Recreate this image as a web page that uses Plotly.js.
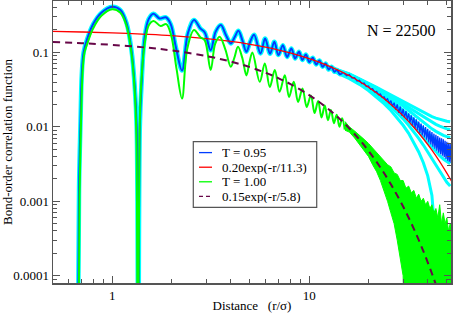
<!DOCTYPE html>
<html>
<head>
<meta charset="utf-8">
<script src="https://cdn.plot.ly/plotly-3.0.1.min.js"></script>
<style>html,body{margin:0;padding:0;background:#fff;}#chart{width:457px;height:313px;}</style>
</head>
<body>
<div id="chart"></div>
<script>
// ---- T = 0.95 averaged curve (smooth oscillating part) ----
var rBlue = [0.665,0.678,0.69,0.70,0.715,0.745,0.80,0.88,1.00,1.10,1.18,1.25,1.30,1.33,1.355,1.38,1.41,1.46,1.53,1.62,1.74,1.87,1.98,2.10,2.26,2.42,2.60,2.80,2.95,3.16,3.35,3.56,3.78,4.00,4.18,4.37,4.58,4.80,5.02,5.25,5.66,5.97,6.33,6.65,6.98,7.35,7.72,8.12,8.48,8.88,9.24,9.62,10.02,10.42,10.85,11.27,11.70,12.12,12.55,12.98,13.42,13.85,14.3,14.75];
var gBlue = [1e-6,0.0015,0.012,0.05,0.10,0.15,0.24,0.34,0.41,0.37,0.25,0.11,0.035,0.01,1e-6,0.01,0.04,0.16,0.28,0.33,0.285,0.296,0.24,0.12,0.057,0.18,0.272,0.21,0.185,0.107,0.19,0.233,0.17,0.132,0.16,0.195,0.145,0.102,0.14,0.172,0.097,0.154,0.096,0.139,0.092,0.125,0.087,0.113,0.083,0.102,0.079,0.094,0.074,0.085,0.069,0.078,0.064,0.071,0.059,0.064,0.055,0.058,0.051,0.053];
// ---- T = 0.95 noisy tail ----
var rBlueTail = [15,15.5,16,16.5,17,17.5,18,18.5,19,19.5,20,20.5,21,21.5,22,22.5,23,23.5,24,24.5,25,25.5,26,26.5,27,27.5,28,28.5,29,29.5,30,30.5,31,31.5,32,32.5,33,33.5,34,34.5,35,35.5,36,36.5,37,37.5,38,38.5,39,39.5,40,40.5,41,41.5,42,42.5,43,43.5,44,44.5,45,45.5,46,46.5,47,47.5,48,48.5,49,49.5,50,50.5,51,51.5,52,52.5,53];
var gBlueTail = [0.0530,0.0485,0.0503,0.0452,0.0458,0.0414,0.0422,0.0381,0.0387,0.0349,0.0355,0.0320,0.0325,0.0294,0.0299,0.0270,0.0275,0.0248,0.0253,0.0229,0.0238,0.0207,0.0225,0.0188,0.0211,0.0170,0.0200,0.0154,0.0187,0.0142,0.0174,0.0133,0.0163,0.0123,0.0152,0.0114,0.0143,0.0105,0.0134,0.0097,0.0126,0.0090,0.0118,0.0083,0.0111,0.0077,0.0105,0.0072,0.0099,0.0067,0.0094,0.0062,0.0089,0.0058,0.0085,0.0054,0.0081,0.0051,0.0078,0.0048,0.0075,0.0045,0.0072,0.0043,0.0070,0.0041,0.0068,0.0039,0.0065,0.0037,0.0063,0.0035,0.0061,0.0034,0.0059,0.0033,0.0057];
// ---- individual T = 0.95 runs (cyan) ----
var rRun = [13,14,16,18,20,22,24,26,28,30,32,34,36,38,40,42,44,46,48,50,52];
var gRunA = [0.064,0.058,0.0515,0.0445,0.039,0.034,0.030,0.0268,0.024,0.0217,0.0198,0.0181,0.0167,0.0155,0.0145,0.0137,0.0131,0.0126,0.0122,0.0119,0.0117];
var gRunG = [0.0635,0.0575,0.051,0.044,0.0385,0.0335,0.029,0.0258,0.0228,0.0203,0.0182,0.0163,0.0148,0.0135,0.0124,0.0115,0.0108,0.0102,0.0097,0.0094,0.0092];
var gRunB = [0.063,0.057,0.0505,0.0435,0.038,0.033,0.0285,0.0248,0.0217,0.019,0.0166,0.0146,0.0129,0.0115,0.0103,0.0094,0.0087,0.0081,0.0077,0.0074,0.0072];
var gRunH = [0.062,0.056,0.049,0.042,0.0362,0.031,0.0265,0.0227,0.0195,0.0168,0.0144,0.0124,0.0107,0.0093,0.0082,0.0072,0.0065,0.0059,0.0055,0.0052,0.0050];
var gRunC = [0.061,0.0545,0.0475,0.0405,0.0345,0.0292,0.0246,0.0207,0.0173,0.0146,0.0122,0.0102,0.0086,0.0073,0.0062,0.0053,0.0046,0.0041,0.0037,0.0034,0.0032];
var gRunD = [0.060,0.054,0.046,0.039,0.0325,0.027,0.0225,0.0187,0.0155,0.0128,0.0105,0.0086,0.0070,0.0057,0.0046,0.0037,0.0030,0.0025,0.0021,0.0018,0.0016];
var gRunE = [0.059,0.052,0.0445,0.0372,0.0307,0.0252,0.0205,0.0166,0.0133,0.0105,0.0082,0.0062,0.0046,0.0033,0.0022,0.0012,0.00025,1e-6,1e-6,1e-6,1e-6];
// ---- T = 1.00 averaged curve ----
var rGreen = [0.67,0.682,0.694,0.708,0.723,0.753,0.80,0.88,1.00,1.10,1.18,1.25,1.30,1.325,1.35,1.375,1.40,1.46,1.53,1.62,1.76,1.88,1.99,2.12,2.26,2.40,2.60,2.80,2.95,3.16,3.33,3.51,3.75,4.00,4.17,4.35,4.57,4.80,4.98,5.15,5.61,5.95,6.31,6.69,7.07,7.52,7.90,8.35,8.78,9.25,9.71,10.2,10.65,11.1,11.55,12.0,12.45,12.9,13.35,13.8,14.25,14.7,15.15];
var gGreen = [1e-6,0.0012,0.012,0.06,0.10,0.14,0.21,0.31,0.38,0.34,0.23,0.10,0.03,0.008,1e-6,0.008,0.035,0.13,0.23,0.265,0.226,0.24,0.17,0.06,0.024,0.11,0.20,0.16,0.145,0.058,0.13,0.162,0.11,0.064,0.085,0.119,0.085,0.049,0.075,0.10,0.0402,0.0711,0.0344,0.0578,0.0295,0.0495,0.0252,0.0402,0.0216,0.0327,0.0185,0.0264,0.0153,0.0223,0.0134,0.0193,0.0123,0.0169,0.0112,0.0145,0.0100,0.0130,0.0092];
// ---- T = 1.00 noisy tail (upper / lower extent) ----
var rGreenBand = [15.2,16,17,18,19,20,21,22,23,24,25,26,27,28,29,30,31,32,33,34,35,36,37,38,39,40,41,42,43,44,45,46,47,48,49,50,51,52,53];
var gGreenUpper = [0.0118,0.0100,0.0088,0.0078,0.0068,0.0060,0.0052,0.0046,0.0040,0.0036,0.0031,0.0029,0.0024,0.0023,0.0019,0.0019,0.0015,0.0016,0.0013,0.0014,0.0011,0.00125,0.0010,0.0011,0.0009,0.0010,0.0008,0.0009,0.0007,0.0008,0.0006,0.0009,0.0005,0.0007,0.0005,0.0006,0.0004,0.0005,0.0004];
var gGreenLower = [0.0090,0.0085,0.0071,0.0058,0.0048,0.0040,0.0031,0.0025,0.0019,0.0014,0.0010,0.0007,0.0005,0.0003,0.00018,0.0001,1e-6,1e-6,1e-6,1e-6,1e-6,1e-6,1e-6,1e-6,1e-6,1e-6,1e-6,1e-6,1e-6,1e-6,1e-6,1e-6,1e-6,1e-6,1e-6,1e-6,1e-6,1e-6,1e-6];
// ---- fits ----
var rFit1 = [0.5,0.7,1,1.5,2,3,4,5,6,7,8,10,12,14,16,18,20,23,26,30,34,38,42,46,50,53];
var gFit1 = [0.1913,0.1880,0.1831,0.1751,0.1678,0.1534,0.1404,0.1285,0.1176,0.1076,0.0985,0.0825,0.0692,0.0579,0.0485,0.0407,0.0341,0.0261,0.0200,0.01406,0.00987,0.00692,0.00486,0.00341,0.00239,0.00184];
var rFit2 = [0.5,0.7,1,1.5,2,3,4,5,6,7,8,10,12,14,16,18,20,23,26,30,34,38,42,44,46];
var gFit2 = [0.1376,0.1329,0.1262,0.1158,0.1062,0.0894,0.0753,0.0634,0.0533,0.0449,0.0378,0.0267,0.01894,0.01342,0.00951,0.00674,0.00477,0.00284,0.00169,0.000851,0.000427,0.000214,0.0001074,0.0000761,0.0000539];
// ---- names & ticks ----
var seriesNames = ["T = 0.95", "0.20exp(-r/11.3)", "T = 1.00", "0.15exp(-r/5.8)"];
var xTickVals = [1, 10];
var xTickText = ["1", "10"];
var xMinorVals = [0.6,0.7,0.8,0.9,2,3,4,5,6,7,8,9,20,30,40,50];
var yTickVals = [0.0001, 0.001, 0.01, 0.1];
var yTickText = ["0.0001", "0.001", "0.01", "0.1"];
var yMinorVals = [0.00009,0.0002,0.0003,0.0004,0.0005,0.0006,0.0007,0.0008,0.0009,0.002,0.003,0.004,0.005,0.006,0.007,0.008,0.009,0.02,0.03,0.04,0.05,0.06,0.07,0.08,0.09,0.2,0.3,0.4];

var CYAN = '#00ffff', BLUE = 'rgb(0,60,255)', RED = '#ff0000', GREEN = '#00ff00', MAROON = 'rgb(103,7,72)';
var seriesColors = [BLUE, RED, GREEN, MAROON];
var seriesDash = ['solid', 'solid', 'solid', '4px,3px'];
function run(y){ return {x: rRun, y: y, mode: 'lines', line: {color: CYAN, width: 3}, showlegend: false, hoverinfo: 'skip'}; }

var traces = [
  run(gRunA), run(gRunG), run(gRunB), run(gRunH), run(gRunC), run(gRunD), run(gRunE),
  {x: rBlue, y: gBlue, mode: 'lines', line: {color: CYAN, width: 4.5, shape: 'spline'}, showlegend: false, hoverinfo: 'skip'},
  {x: rGreenBand, y: gGreenUpper, mode: 'lines', line: {color: GREEN, width: 1}, showlegend: false, hoverinfo: 'skip'},
  {x: rGreenBand, y: gGreenLower, mode: 'lines', fill: 'tonexty', fillcolor: GREEN, line: {color: GREEN, width: 1}, showlegend: false, hoverinfo: 'skip'},
  {x: rBlue, y: gBlue, mode: 'lines', name: seriesNames[0], line: {color: BLUE, width: 2, shape: 'spline'}},
  {x: rBlueTail, y: gBlueTail, mode: 'lines', line: {color: BLUE, width: 1.3}, showlegend: false},
  {x: rFit1, y: gFit1, mode: 'lines', name: seriesNames[1], line: {color: RED, width: 1.3, shape: 'spline'}},
  {x: rGreen, y: gGreen, mode: 'lines', name: seriesNames[2], line: {color: GREEN, width: 2, shape: 'spline'}},
  {x: rFit2, y: gFit2, mode: 'lines', name: seriesNames[3], line: {color: MAROON, width: 2, dash: '7px,5px', shape: 'spline'}}
];

var FONT = 'Liberation Serif, Times New Roman, serif';

// legend drawn as a framed box of line samples and labels (paper coordinates)
var legX0 = 0.3525, legX1 = 0.6626, legY0 = 0.2684, legY1 = 0.5011;
var legLineX0 = 0.3668, legLineX1 = 0.3995, legTextX = 0.4221;
var legRowY = [0.4624, 0.4106, 0.3589, 0.3071];
var shapes = [{type: 'rect', xref: 'paper', yref: 'paper', x0: legX0, x1: legX1, y0: legY0, y1: legY1,
               line: {color: '#555', width: 1.2}, fillcolor: '#fff', layer: 'above'}];
var annotations = [{xref: 'paper', yref: 'paper', x: 0.876, y: 0.897, xanchor: 'center', yanchor: 'middle',
                    text: 'N = 22500', showarrow: false, font: {family: FONT, size: 16, color: '#000'}}];
for (var i = 0; i < seriesNames.length; i++) {
  shapes.push({type: 'line', xref: 'paper', yref: 'paper', x0: legLineX0, x1: legLineX1, y0: legRowY[i], y1: legRowY[i],
               line: {color: seriesColors[i], width: 1.3, dash: seriesDash[i]}, layer: 'above'});
  annotations.push({xref: 'paper', yref: 'paper', x: legTextX, y: legRowY[i], xanchor: 'left', yanchor: 'middle',
                    text: seriesNames[i], showarrow: false, borderpad: 0, height: 13,
                    font: {family: FONT, size: 13, color: '#000'}});
}

var layout = {
  width: 457, height: 313,
  margin: {l: 53, r: 6, t: 1, b: 30},
  paper_bgcolor: '#fff', plot_bgcolor: '#fff',
  font: {family: FONT, size: 13, color: '#000'},
  showlegend: false,
  xaxis: {type: 'log', range: [Math.log10(0.5), Math.log10(52.5)], showgrid: false, zeroline: false,
          showline: true, linecolor: '#555', linewidth: 1.5, mirror: 'ticks',
          ticks: 'inside', ticklen: 7, tickcolor: '#555', tickwidth: 1,
          tickmode: 'array', tickvals: xTickVals, ticktext: xTickText,
          tickfont: {family: FONT, size: 13, color: '#000'},
          minor: {tickmode: 'array', tickvals: xMinorVals, ticks: 'inside', ticklen: 4, tickcolor: '#555', showgrid: false},
          title: {text: 'Distance\u00a0\u00a0\u00a0(r/\u03c3)', font: {family: FONT, size: 13, color: '#000'}, standoff: 4}},
  yaxis: {type: 'log', range: [Math.log10(8e-5), Math.log10(0.49)], showgrid: false, zeroline: false,
          showline: true, linecolor: '#555', linewidth: 1.5, mirror: 'ticks',
          ticks: 'inside', ticklen: 7, tickcolor: '#555', tickwidth: 1,
          tickmode: 'array', tickvals: yTickVals, ticktext: yTickText,
          tickfont: {family: FONT, size: 13, color: '#000'},
          minor: {tickmode: 'array', tickvals: yMinorVals, ticks: 'inside', ticklen: 4, tickcolor: '#555', showgrid: false},
          title: {text: 'Bond-order correlation function', font: {family: FONT, size: 13, color: '#000'}, standoff: 4}},
  shapes: shapes,
  annotations: annotations
};

Plotly.newPlot('chart', traces, layout, {staticPlot: true, displayModeBar: false});
</script>
</body>
</html>
